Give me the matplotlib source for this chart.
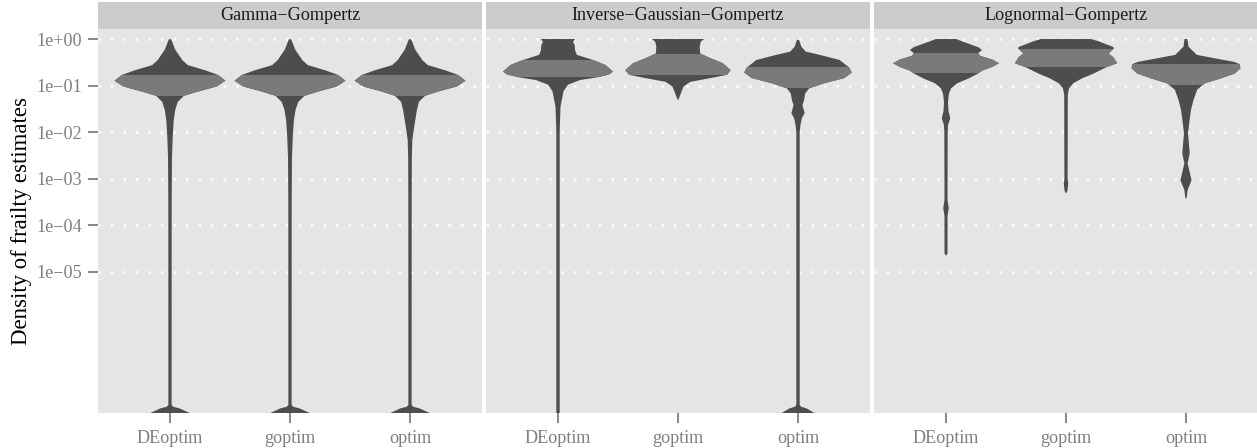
import numpy as np
import matplotlib.pyplot as plt
from matplotlib.patches import Polygon, Rectangle

plt.rcParams['font.family'] = ['Liberation Serif', 'DejaVu Serif']

models = ['Gamma\u2212Gompertz', 'Inverse\u2212Gaussian\u2212Gompertz', 'Lognormal\u2212Gompertz']
methods = ['DEoptim', 'goptim', 'optim']

# y ticks (log10 of the frailty estimate)
tick_pos = [0, -1, -2, -3, -4, -5]
tick_labels = ['1e+00', '1e\u221201', '1e\u221202', '1e\u221203', '1e\u221204', '1e\u221205']

# violin outlines: (log10 estimate, relative density)
gamma_deoptim = [(-0.005, 0.02), (-0.23, 0.095), (-0.45, 0.22), (-0.56, 0.32), (-0.67, 0.63),
                 (-0.77, 0.865), (-0.895, 1.0), (-1.02, 0.84), (-1.13, 0.50), (-1.22, 0.25),
                 (-1.35, 0.14), (-1.52, 0.095), (-1.74, 0.067), (-2.10, 0.049), (-2.53, 0.036),
                 (-3.5, 0.03), (-7.85, 0.029), (-7.89, 0.055), (-7.93, 0.18), (-8.03, 0.36),
                 (-8.1, 0.40)]
gamma_goptim = [(-0.005, 0.02), (-0.23, 0.095), (-0.45, 0.22), (-0.56, 0.32), (-0.67, 0.63),
                (-0.77, 0.865), (-0.895, 1.0), (-1.02, 0.84), (-1.13, 0.50), (-1.22, 0.26),
                (-1.35, 0.15), (-1.52, 0.10), (-1.74, 0.07), (-2.10, 0.05), (-2.53, 0.036),
                (-3.5, 0.03), (-7.85, 0.029), (-7.89, 0.055), (-7.93, 0.18), (-8.03, 0.36),
                (-8.1, 0.40)]
gamma_optim = [(-0.005, 0.02), (-0.23, 0.095), (-0.45, 0.22), (-0.56, 0.32), (-0.67, 0.63),
               (-0.77, 0.865), (-0.895, 1.0), (-1.02, 0.84), (-1.13, 0.50), (-1.22, 0.27),
               (-1.35, 0.16), (-1.52, 0.125), (-1.74, 0.095), (-1.95, 0.067), (-2.17, 0.042),
               (-2.53, 0.033), (-3.5, 0.03), (-7.85, 0.029), (-7.89, 0.055), (-7.93, 0.18),
               (-8.03, 0.36), (-8.1, 0.40)]

ig_deoptim = [(0.0, 0.31), (-0.06, 0.27), (-0.13, 0.30), (-0.25, 0.31), (-0.34, 0.34),
              (-0.45, 0.63), (-0.56, 0.86), (-0.70, 0.99), (-0.76, 0.92), (-0.82, 0.72),
              (-0.88, 0.40), (-0.98, 0.18), (-1.12, 0.10), (-1.30, 0.07), (-1.45, 0.045),
              (-2.0, 0.03), (-8.1, 0.03)]
ig_goptim = [(0.0, 0.47), (-0.06, 0.41), (-0.165, 0.39), (-0.31, 0.40), (-0.41, 0.58),
             (-0.52, 0.81), (-0.67, 0.95), (-0.77, 0.88), (-0.84, 0.58), (-0.92, 0.22),
             (-1.02, 0.10), (-1.17, 0.05), (-1.30, 0.01)]
ig_optim = [(-0.02, 0.02), (-0.165, 0.06), (-0.27, 0.14), (-0.34, 0.39), (-0.45, 0.75),
            (-0.61, 0.92), (-0.72, 0.97), (-0.84, 0.83), (-0.95, 0.47), (-1.06, 0.20),
            (-1.17, 0.13), (-1.31, 0.11), (-1.42, 0.08), (-1.59, 0.12), (-1.70, 0.07),
            (-1.84, 0.045), (-2.0, 0.03), (-7.85, 0.03), (-7.89, 0.055), (-7.93, 0.16),
            (-8.03, 0.30), (-8.1, 0.33)]

ln_deoptim = [(0.0, 0.18), (-0.05, 0.29), (-0.11, 0.43), (-0.18, 0.59), (-0.24, 0.65),
              (-0.30, 0.58), (-0.36, 0.61), (-0.44, 0.83), (-0.52, 0.955), (-0.60, 0.83),
              (-0.68, 0.65), (-0.74, 0.58), (-0.845, 0.41), (-0.95, 0.20), (-1.06, 0.09),
              (-1.17, 0.054), (-1.35, 0.036), (-1.55, 0.045), (-1.70, 0.077), (-1.85, 0.036),
              (-2.0, 0.03), (-3.45, 0.027), (-3.63, 0.05), (-3.8, 0.027), (-4.6, 0.027),
              (-4.64, 0.01)]
ln_goptim = [(0.0, 0.45), (-0.05, 0.59), (-0.11, 0.72), (-0.17, 0.85), (-0.20, 0.865),
             (-0.24, 0.83), (-0.31, 0.77), (-0.40, 0.86), (-0.52, 0.92), (-0.61, 0.72),
             (-0.74, 0.50), (-0.845, 0.29), (-0.95, 0.13), (-1.06, 0.054), (-1.2, 0.032),
             (-3.0, 0.029), (-3.1, 0.04), (-3.25, 0.027), (-3.30, 0.01)]
ln_optim = [(0.0, 0.027), (-0.165, 0.045), (-0.34, 0.195), (-0.41, 0.50), (-0.49, 0.865),
            (-0.54, 0.97), (-0.63, 0.98), (-0.74, 0.88), (-0.845, 0.63), (-0.95, 0.34),
            (-1.09, 0.20), (-1.31, 0.135), (-1.52, 0.09), (-1.67, 0.072), (-2.02, 0.036),
            (-2.45, 0.067), (-2.67, 0.03), (-3.03, 0.10), (-3.24, 0.03), (-3.42, 0.01)]

violins = [[gamma_deoptim, gamma_goptim, gamma_optim],
           [ig_deoptim, ig_goptim, ig_optim],
           [ln_deoptim, ln_goptim, ln_optim]]

# interquartile range (log10) for each violin
q25 = [[-1.22, -1.22, -1.22], [-0.81, -0.77, -1.06], [-0.74, -0.61, -0.99]]
q75 = [[-0.77, -0.77, -0.77], [-0.45, -0.32, -0.61], [-0.31, -0.21, -0.54]]

dark = '#4D4D4D'
light = '#7A7A7A'
half_width = 0.4625

W, H = 1257, 448
fig = plt.figure(figsize=(W / 100, H / 100), dpi=100)

panel_left = [98, 486, 874]
panel_w = 384
panel_top, panel_bottom = 29.5, 413
strip_top = 2

for k, model in enumerate(models):
    ax = fig.add_axes([panel_left[k] / W, (H - panel_bottom) / H,
                       panel_w / W, (panel_bottom - panel_top) / H])
    ax.set_facecolor('#E5E5E5')
    for s in ax.spines.values():
        s.set_visible(False)
    ax.set_xlim(0.4, 3.6)
    ax.set_ylim(-8.026, 0.204)
    ax.set_yticks(tick_pos)
    ax.yaxis.grid(True, color='white', linestyle=(0, (1, 4)), linewidth=1.8)
    ax.set_axisbelow(True)

    for j, prof in enumerate(violins[k]):
        p = np.array(prof)
        y, d = p[:, 0], p[:, 1] * half_width
        xs = np.concatenate([j + 1 - d, (j + 1 + d)[::-1]])
        ys = np.concatenate([y, y[::-1]])
        poly = Polygon(np.column_stack([xs, ys]), closed=True, facecolor=dark,
                       edgecolor='none', zorder=2)
        ax.add_patch(poly)
        band = Rectangle((j + 0.5, q25[k][j]), 1.0, q75[k][j] - q25[k][j],
                         facecolor=light, edgecolor='none', zorder=3)
        ax.add_patch(band)
        band.set_clip_path(poly)

    ax.set_xticks([1, 2, 3])
    ax.set_xticklabels(methods)
    ax.tick_params(axis='both', colors='#7F7F7F', labelcolor='#7F7F7F',
                   labelsize=13.1, length=7, width=1.3)
    ax.tick_params(axis='x', pad=5.5)
    ax.tick_params(axis='y', pad=4.3)
    if k == 0:
        ax.set_yticklabels(tick_labels)
    else:
        ax.tick_params(axis='y', left=False, labelleft=False)

    strip = fig.add_axes([panel_left[k] / W, (H - panel_top) / H,
                          panel_w / W, (panel_top - strip_top) / H])
    strip.set_facecolor('#CCCCCC')
    strip.set_xticks([])
    strip.set_yticks([])
    for s in strip.spines.values():
        s.set_visible(False)
    strip.text(0.5, 0.5, model, ha='center', va='center', fontsize=13.1,
               color='#1A1A1A', transform=strip.transAxes)

fig.text(22 / W, 1 - ((panel_top + panel_bottom) / 2) / H, 'Density of frailty estimates',
         rotation=90, ha='center', va='center', fontsize=16.4, color='black')

fig.savefig('out.png', dpi=100)
